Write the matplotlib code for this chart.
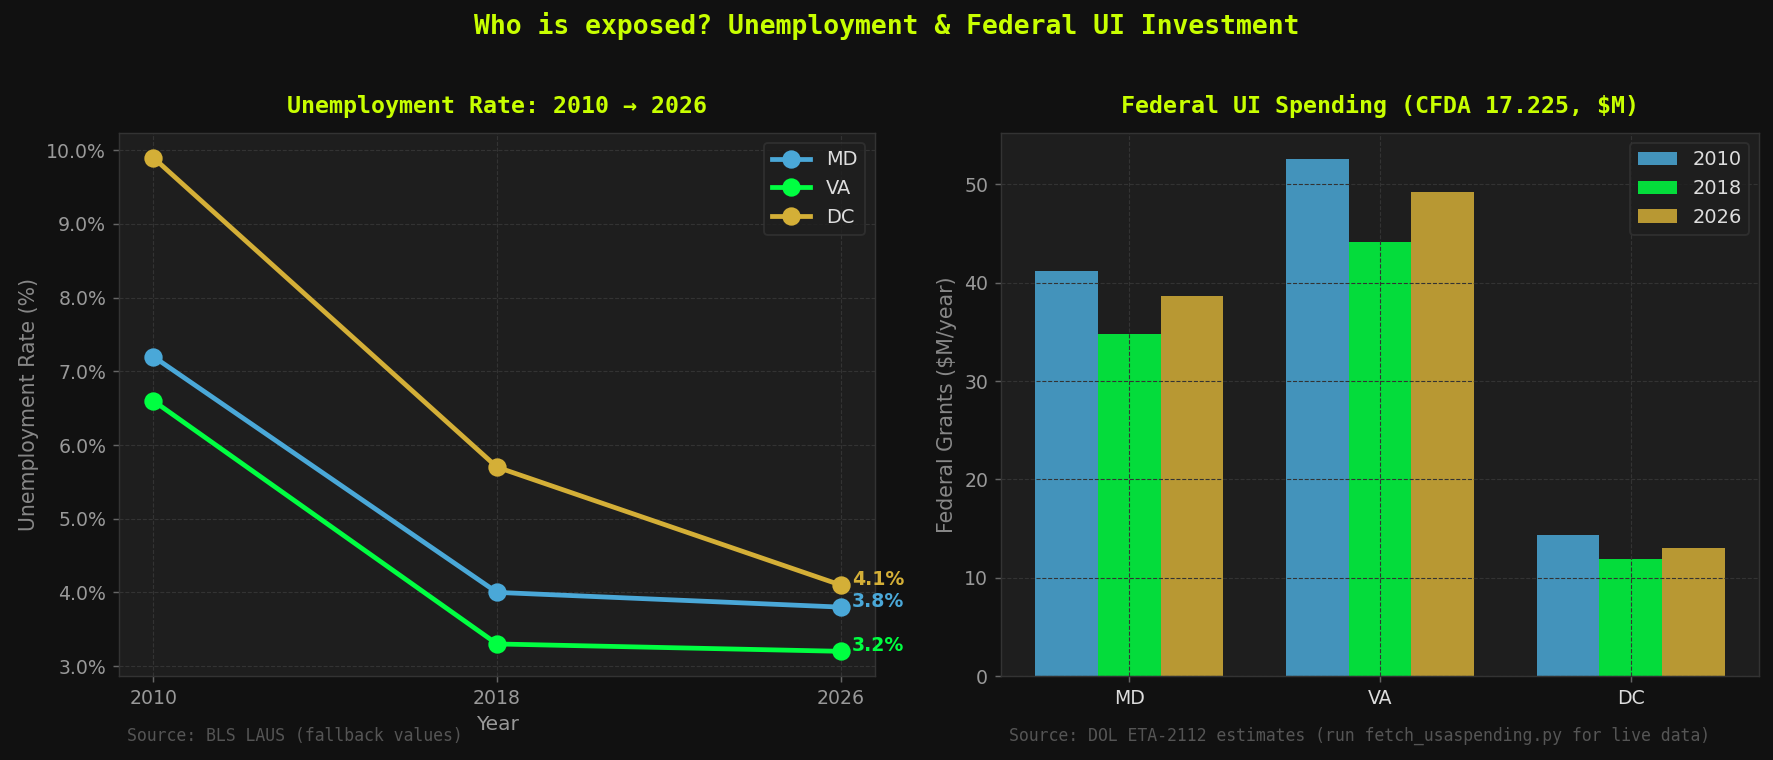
import matplotlib
matplotlib.use("Agg")
import matplotlib.pyplot as plt
import numpy as np
from matplotlib.ticker import FuncFormatter

# unemployment rate (%)
years = [2010, 2018, 2026]
states = ["MD", "VA", "DC"]
md_rate = [7.2, 4.0, 3.8]
va_rate = [6.6, 3.3, 3.2]
dc_rate = [9.9, 5.7, 4.1]

# federal UI grants ($M/year), per year, in state order
grants_2010 = [41.2, 52.6, 14.3]
grants_2018 = [34.8, 44.1, 11.9]
grants_2026 = [38.6, 49.2, 13.0]

colors = {"MD": "#4aa8d8", "VA": "#00ff41", "DC": "#d4af37"}
LIME = "#c8ff00"
BG = "#111111"
AX_BG = "#1e1e1e"

dpi = 132
fig = plt.figure(figsize=(1773 / dpi, 760 / dpi), dpi=dpi, facecolor=BG)
W, H = 1773, 760
ax1 = fig.add_axes([119 / W, 1 - 676 / H, 756 / W, 543 / H])
ax2 = fig.add_axes([1001 / W, 1 - 676 / H, 758 / W, 543 / H])

fig.suptitle("Who is exposed? Unemployment & Federal UI Investment",
             family="DejaVu Sans Mono", fontweight="bold", fontsize=14.4,
             color=LIME, y=1 - 26 / H, va="center")


def style(ax):
    ax.set_facecolor(AX_BG)
    for s in ax.spines.values():
        s.set_color("#333333")
    ax.tick_params(colors="#666666", labelcolor="#999999", labelsize=10.3)
    ax.grid(True, color="#333333", linestyle="--", linewidth=0.6)


# ---- left: unemployment lines
style(ax1)
for st, vals in zip(states, [md_rate, va_rate, dc_rate]):
    ax1.plot(years, vals, "-o", color=colors[st], lw=2.6, ms=9, label=st)
    ax1.annotate(f"{vals[-1]:.1f}%", (years[-1], vals[-1]),
                 xytext=(6, 3), textcoords="offset points",
                 color=colors[st], fontsize=10.3, fontweight="bold", va="center")
ax1.set_xticks(years)
ax1.yaxis.set_major_formatter(FuncFormatter(lambda v, p: f"{v:.1f}%"))
ax1.set_xlabel("Year", color="#999999", fontsize=11)
ax1.set_ylabel("Unemployment Rate (%)", color="#888888", fontsize=11.2)
ax1.set_title("Unemployment Rate: 2010 \u2192 2026", family="DejaVu Sans Mono",
              fontweight="bold", fontsize=12.7, color=LIME, pad=11)
ax1.legend(loc="upper right", facecolor=AX_BG, edgecolor="#333333",
           fontsize=10.6, labelcolor="#dddddd")
ax1.text(0.01, -0.11, "Source: BLS LAUS (fallback values)", transform=ax1.transAxes,
         family="DejaVu Sans Mono", fontsize=9, color="#555555", va="center")

# ---- right: grouped bars
style(ax2)
x = np.arange(len(states))
w = 0.25
for i, (yr, vals) in enumerate(zip(years, [grants_2010, grants_2018, grants_2026])):
    ax2.bar(x + (i - 1) * w, vals, w, color=list(colors.values())[i], alpha=0.85,
            label=str(yr))
ax2.set_xticks(x)
ax2.set_xticklabels(states, color="#dddddd")
ax2.set_ylabel("Federal Grants ($M/year)", color="#888888", fontsize=11.2)
ax2.set_title("Federal UI Spending (CFDA 17.225, $M)", family="DejaVu Sans Mono",
              fontweight="bold", fontsize=12.7, color=LIME, pad=11)
ax2.legend(loc="upper right", facecolor=AX_BG, edgecolor="#333333",
           fontsize=10.6, labelcolor="#dddddd")
ax2.text(0.01, -0.11, "Source: DOL ETA-2112 estimates (run fetch_usaspending.py for live data)",
         transform=ax2.transAxes, family="DejaVu Sans Mono", fontsize=9,
         color="#555555", va="center")

fig.savefig("out.png", dpi=dpi, facecolor=BG)
